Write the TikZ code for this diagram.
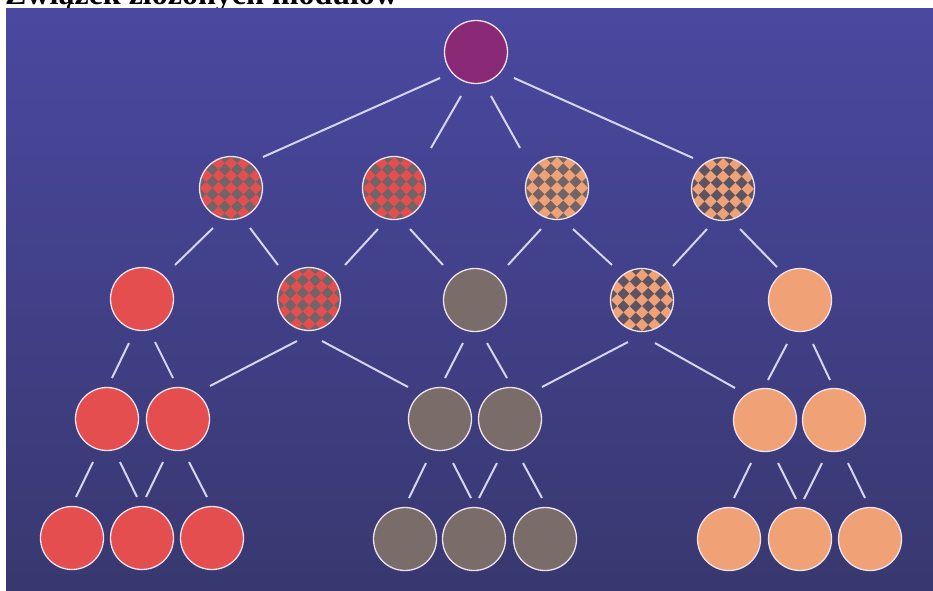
\documentclass[tikz,border=0pt]{standalone}
\usepackage{fontspec}
\setmainfont{Liberation Serif}
\usetikzlibrary{calc}
\definecolor{bgtop}{RGB}{74,72,160}
\definecolor{bgbot}{RGB}{56,56,112}
\definecolor{redc}{RGB}{228,78,78}
\definecolor{grayc}{RGB}{122,108,104}
\definecolor{orangec}{RGB}{240,162,118}
\definecolor{purplec}{RGB}{138,42,118}
\definecolor{rim}{RGB}{238,226,236}
\definecolor{edgec}{RGB}{214,212,240}
\definecolor{chkgray}{RGB}{112,100,104}
\definecolor{chkgraydark}{RGB}{92,84,100}
\begin{document}
\begin{tikzpicture}[x=1pt,y=-1pt,
  mod/.style={circle, minimum size=63pt, inner sep=0pt, draw=rim, line width=1.3pt},
  edge/.style={draw=edgec, line width=2pt},
  checker/.style 2 args={fill=#2, path picture={
    \foreach \i in {-3,...,3}{\foreach \j in {-3,...,3}{
      \fill[#1] ([shift={(\i*12.4,\j*12.4)}]path picture bounding box.center)
        +(-6.2,0) -- +(0,6.2) -- +(6.2,0) -- +(0,-6.2) -- cycle;
    }}}}
]
\useasboundingbox (0,0) rectangle (933,590);
\node[anchor=base west, inner sep=0pt, font=\bfseries\fontsize{32}{36}\selectfont] (title) at (5,4) {Związek złożonych modułów};
\shade[top color=bgtop, bottom color=bgbot] (6,8) rectangle (933,590);

% level 1
\node[mod, fill=purplec] (T) at (476,52) {};
% level 2
\node[mod, checker={redc}{chkgray}] (L2a) at (231,188) {};
\node[mod, checker={redc}{chkgray}] (L2b) at (394,188) {};
\node[mod, checker={orangec}{chkgray}] (L2c) at (557,188) {};
\node[mod, checker={orangec}{chkgraydark}] (L2d) at (723,189) {};
% level 3
\node[mod, fill=redc] (L3a) at (142,299) {};
\node[mod, checker={redc}{chkgray}] (L3b) at (309,299) {};
\node[mod, fill=grayc] (L3c) at (475,300) {};
\node[mod, checker={orangec}{chkgraydark}] (L3d) at (642,300) {};
\node[mod, fill=orangec] (L3e) at (800,300) {};
% level 4
\node[mod, fill=redc] (L4a) at (107,419) {};
\node[mod, fill=redc] (L4b) at (178,419) {};
\node[mod, fill=grayc] (L4c) at (440,419) {};
\node[mod, fill=grayc] (L4d) at (510,419) {};
\node[mod, fill=orangec] (L4e) at (765,420) {};
\node[mod, fill=orangec] (L4f) at (834,420) {};
% level 5
\node[mod, fill=redc] (L5a) at (72,538) {};
\node[mod, fill=redc] (L5b) at (142,538) {};
\node[mod, fill=redc] (L5c) at (212,538) {};
\node[mod, fill=grayc] (L5d) at (405,539) {};
\node[mod, fill=grayc] (L5e) at (474,539) {};
\node[mod, fill=grayc] (L5f) at (545,539) {};
\node[mod, fill=orangec] (L5g) at (729,539) {};
\node[mod, fill=orangec] (L5h) at (800,539) {};
\node[mod, fill=orangec] (L5i) at (870,539) {};

% edges level 1 -> 2
\draw[edge] ($(T)+(-36,26)$) -- ($(L2a)+(32,-31)$);
\draw[edge] ($(T)+(-15,44)$) -- ($(L2b)+(37,-40)$);
\draw[edge] ($(T)+(15,44)$) -- ($(L2c)+(-37,-40)$);
\draw[edge] ($(T)+(38,26)$) -- ($(L2d)+(-30,-31)$);
% level 2 -> 3
\draw[edge] ($(L2a)+(-18,40)$) -- ($(L3a)+(33,-34)$);
\draw[edge] ($(L2a)+(19,40)$) -- ($(L3b)+(-31,-34)$);
\draw[edge] ($(L2b)+(-16,41)$) -- ($(L3b)+(36,-34)$);
\draw[edge] ($(L2b)+(16,41)$) -- ($(L3c)+(-32,-35)$);
\draw[edge] ($(L2c)+(-16,41)$) -- ($(L3c)+(33,-35)$);
\draw[edge] ($(L2c)+(16,41)$) -- ($(L3d)+(-30,-35)$);
\draw[edge] ($(L2d)+(-16,40)$) -- ($(L3d)+(31,-34)$);
\draw[edge] ($(L2d)+(17,40)$) -- ($(L3e)+(-23,-33)$);
% level 3 -> 4
\draw[edge] ($(L3a)+(-13,44)$) -- ($(L4a)+(5,-41)$);
\draw[edge] ($(L3a)+(13,43)$) -- ($(L4b)+(-5,-41)$);
\draw[edge] ($(L3b)+(-12,42)$) -- ($(L4b)+(32,-33)$);
\draw[edge] ($(L3b)+(13,42)$) -- ($(L4c)+(-32,-32)$);
\draw[edge] ($(L3c)+(-12,43)$) -- ($(L4c)+(5,-41)$);
\draw[edge] ($(L3c)+(12,43)$) -- ($(L4d)+(-3,-41)$);
\draw[edge] ($(L3d)+(-14,42)$) -- ($(L4d)+(32,-32)$);
\draw[edge] ($(L3d)+(13,43)$) -- ($(L4e)+(-30,-32)$);
\draw[edge] ($(L3e)+(-13,44)$) -- ($(L4e)+(3,-40)$);
\draw[edge] ($(L3e)+(13,44)$) -- ($(L4f)+(-4,-40)$);
% level 4 -> 5
\draw[edge] ($(L4a)+(-14,43)$) -- ($(L5a)+(4,-41)$);
\draw[edge] ($(L4a)+(13,43)$) -- ($(L5b)+(-5,-41)$);
\draw[edge] ($(L4b)+(-15,43)$) -- ($(L5b)+(4,-41)$);
\draw[edge] ($(L4b)+(11,43)$) -- ($(L5c)+(-5,-41)$);
\draw[edge] ($(L4c)+(-14,44)$) -- ($(L5d)+(4,-41)$);
\draw[edge] ($(L4c)+(13,44)$) -- ($(L5e)+(-3,-41)$);
\draw[edge] ($(L4d)+(-13,44)$) -- ($(L5e)+(5,-41)$);
\draw[edge] ($(L4d)+(13,44)$) -- ($(L5f)+(-3,-41)$);
\draw[edge] ($(L4e)+(-14,43)$) -- ($(L5g)+(5,-41)$);
\draw[edge] ($(L4e)+(13,43)$) -- ($(L5h)+(-4,-40)$);
\draw[edge] ($(L4f)+(-12,43)$) -- ($(L5h)+(4,-40)$);
\draw[edge] ($(L4f)+(14,43)$) -- ($(L5i)+(-5,-41)$);
\end{tikzpicture}
\end{document}
